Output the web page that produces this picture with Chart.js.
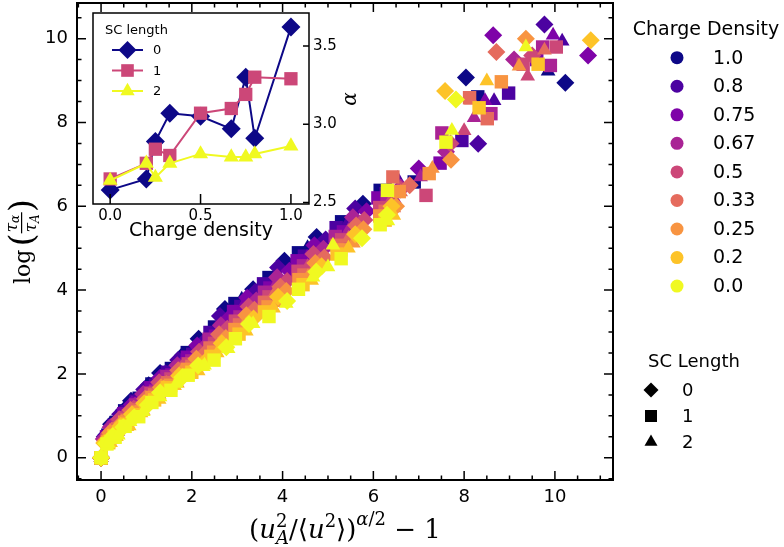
<!DOCTYPE html>
<html>
<head>
<meta charset="utf-8">
<script src="https://cdn.jsdelivr.net/npm/chart.js@4.4.1/dist/chart.umd.min.js"></script>
<style>
  html, body { margin: 0; padding: 0; background: #fff; }
  #wrap { position: relative; width: 784px; height: 547px; }
  #main { position: absolute; left: 0; top: 0; }
  #inset { position: absolute; left: 85px; top: 5px; }
</style>
</head>
<body>
<div id="wrap">
  <canvas id="main" width="784" height="547"></canvas>
  <canvas id="inset" width="280" height="255"></canvas>
</div>
<script>
// ---- legend categories ----
const chargeLabels = ['1.0', '0.8', '0.75', '0.67', '0.5', '0.33', '0.25', '0.2', '0.0'];
const chargeColors = ['#0d0887', '#4c02a1', '#7e03a8', '#a92395', '#cc4778', '#e56b5d', '#f89441', '#fdc328', '#f0f921'];
const scLabels = ['0', '1', '2'];

// ---- main axes ticks ----
const xTicks = [0, 2, 4, 6, 8, 10];
const yTicks = [0, 2, 4, 6, 8, 10];

// ---- main scatter: [x, y] per charge density / SC length ----
const cd10_sc0 = [[0,0],[0.12,0.55],[0.22,0.8],[0.5,1.13],[0.66,1.36],[1.05,1.73],[1.3,2.02],[1.8,2.44],[2.15,2.84],[2.73,3.55],[3.35,4.02],[4.04,4.7],[4.75,5.27],[5.77,6.06],[8.04,9.07],[10.23,8.95]];
const cd10_sc1 = [[0,0],[0.15,0.54],[0.33,0.84],[0.52,1.12],[0.84,1.42],[1.12,1.76],[1.55,2.13],[1.9,2.51],[2.5,3.12],[2.95,3.68],[3.7,4.3],[4.35,4.89],[5.3,5.63],[6.15,6.38],[6.9,6.58],[8.3,8.61]];
const cd10_sc2 = [[0,0],[0.2,0.58],[0.37,0.78],[0.57,1.12],[0.94,1.43],[1.22,1.8],[1.7,2.15],[2.05,2.62],[2.65,3.2],[3.1,3.78],[3.9,4.36],[4.55,5.01],[5.58,5.74],[6.35,6.45],[9.85,9.22]];

const cd08_sc0 = [[0,0],[0.08,0.5],[0.3,0.81],[0.42,1.04],[0.76,1.35],[0.95,1.63],[1.42,2.01],[1.7,2.33],[2.3,2.8],[2.62,3.38],[3.4,3.96],[3.9,4.54],[4.95,5.21],[5.6,5.95],[8.31,7.49],[9.77,10.34]];
const cd08_sc1 = [[0,0],[0.18,0.53],[0.28,0.77],[0.58,1.1],[0.77,1.35],[1.2,1.73],[1.46,2.04],[2.02,2.47],[2.4,2.99],[3.08,3.61],[3.58,4.15],[4.48,4.81],[5.18,5.49],[6.28,6.3],[7.95,7.57],[8.98,8.7]];
const cd08_sc2 = [[0,0],[0.22,0.55],[0.33,0.74],[0.63,1.07],[0.87,1.38],[1.3,1.74],[1.6,2.09],[2.16,2.53],[2.55,3.11],[3.22,3.66],[3.8,4.26],[4.66,4.89],[5.45,5.63],[6.53,6.66],[8.66,8.52],[10.16,9.94]];

const cd075_sc0 = [[0,0],[0.14,0.49],[0.27,0.74],[0.52,1.02],[0.68,1.27],[1.08,1.61],[1.3,1.91],[1.85,2.3],[2.12,2.68],[2.8,3.31],[3.22,3.82],[4.15,4.46],[4.7,5.07],[5.85,5.88],[7.0,6.9],[8.64,10.08],[10.73,9.6]];
const cd075_sc1 = [[0,0],[0.12,0.5],[0.35,0.73],[0.5,1.05],[0.85,1.3],[1.1,1.67],[1.56,1.98],[1.9,2.4],[2.52,2.9],[2.92,3.49],[3.72,4.05],[4.32,4.7],[5.34,5.39],[6.1,6.2],[7.47,7.03],[9.6,9.5]];
const cd075_sc2 = [[0,0],[0.18,0.52],[0.38,0.7],[0.58,1.02],[0.93,1.32],[1.21,1.68],[1.7,2.03],[2.04,2.46],[2.66,3.0],[3.1,3.56],[3.92,4.14],[4.54,4.78],[5.56,5.53],[6.34,6.28],[8.46,8.52],[9.96,10.08]];

const cd067_sc0 = [[0,0],[0.06,0.45],[0.21,0.73],[0.47,0.95],[0.75,1.24],[0.93,1.52],[1.4,1.88],[1.68,2.21],[2.28,2.64],[2.64,3.16],[3.42,3.75],[3.88,4.31],[4.9,4.99],[5.55,5.74],[6.6,6.45],[7.6,7.3],[9.1,9.5]];
const cd067_sc1 = [[0,0],[0.17,0.47],[0.27,0.71],[0.6,0.98],[0.76,1.26],[1.2,1.59],[1.45,1.94],[2.0,2.31],[2.38,2.83],[3.06,3.36],[3.6,3.95],[4.46,4.58],[5.16,5.28],[6.3,6.09],[7.51,7.75],[8.59,8.21],[9.73,9.8],[9.9,9.36]];
const cd067_sc2 = [[0,0],[0.21,0.49],[0.34,0.67],[0.63,0.95],[0.88,1.29],[1.29,1.62],[1.61,1.97],[2.15,2.38],[2.56,2.9],[3.2,3.45],[3.8,4.03],[4.65,4.67],[5.45,5.42],[6.46,6.18],[7.04,6.7],[8.22,8.11]];

const cd05_sc0 = [[0,0],[0.12,0.44],[0.29,0.67],[0.4,0.92],[0.72,1.17],[1.06,1.49],[1.28,1.8],[1.82,2.17],[2.16,2.53],[2.78,3.08],[3.25,3.61],[4.1,4.22],[4.68,4.86],[5.8,5.67],[6.6,6.4],[7.7,7.5],[9.5,9.6]];
const cd05_sc1 = [[0,0],[0.13,0.43],[0.32,0.67],[0.53,0.95],[0.83,1.19],[1.1,1.54],[1.54,1.88],[1.92,2.24],[2.5,2.73],[2.96,3.26],[3.7,3.84],[4.34,4.45],[5.3,5.2],[6.14,5.97],[7.16,6.26],[9.3,9.39],[10.03,9.8]];
const cd05_sc2 = [[0,0],[0.19,0.46],[0.37,0.63],[0.57,0.91],[0.93,1.23],[1.22,1.55],[1.69,1.93],[2.06,2.3],[2.64,2.8],[3.12,3.34],[3.9,3.91],[4.55,4.56],[5.55,5.32],[6.35,6.08],[8.0,7.8],[9.4,9.1]];

const cd033_sc0 = [[0,0],[0.09,0.4],[0.24,0.65],[0.5,0.85],[0.65,1.14],[0.97,1.41],[1.44,1.76],[1.7,2.09],[2.26,2.46],[2.6,2.95],[3.38,3.53],[3.95,4.08],[4.92,4.78],[5.62,5.54],[6.8,6.5],[8.71,9.68]];
const cd033_sc1 = [[0,0],[0.16,0.42],[0.29,0.61],[0.57,0.9],[0.78,1.14],[1.18,1.5],[1.47,1.79],[2.0,2.18],[2.4,2.62],[3.05,3.17],[3.6,3.71],[4.47,4.36],[5.2,5.07],[6.26,5.88],[6.43,6.7],[8.12,8.59],[8.51,8.09]];
const cd033_sc2 = [[0,0],[0.22,0.43],[0.33,0.59],[0.62,0.86],[0.87,1.18],[1.28,1.51],[1.62,1.84],[2.14,2.22],[2.57,2.71],[3.2,3.21],[3.82,3.92],[4.65,4.43],[5.45,5.23],[6.45,5.96],[6.6,6.34],[8.16,8.53],[9.77,9.72]];

const cd025_sc0 = [[0,0],[0.13,0.39],[0.2,0.6],[0.46,0.83],[0.78,1.07],[1.04,1.38],[1.32,1.68],[1.8,2.05],[2.1,2.36],[2.75,2.86],[3.2,3.4],[4.08,3.98],[4.72,4.65],[5.78,5.45],[6.5,6.0],[7.71,7.11],[9.36,10.0]];
const cd025_sc1 = [[0,0],[0.14,0.39],[0.33,0.57],[0.52,0.85],[0.82,1.09],[1.12,1.44],[1.53,1.73],[1.9,2.11],[2.48,2.52],[2.95,3.06],[3.68,3.6],[4.36,4.25],[5.28,4.96],[6.14,5.77],[6.57,6.35],[7.23,6.78],[8.82,8.97]];
const cd025_sc2 = [[0,0],[0.19,0.39],[0.37,0.55],[0.58,0.81],[0.93,1.12],[1.22,1.45],[1.68,1.78],[2.06,2.15],[2.64,2.61],[3.12,3.11],[3.9,3.7],[4.56,4.32],[5.56,5.12],[6.35,5.86],[7.3,6.9],[9.21,9.34]];

const cd02_sc0 = [[0,0],[0.07,0.35],[0.3,0.58],[0.43,0.76],[0.68,1.04],[0.95,1.3],[1.38,1.64],[1.72,1.96],[2.3,2.3],[2.66,2.73],[3.36,3.32],[3.9,3.84],[4.86,4.57],[5.6,5.33],[6.4,6.0],[7.58,8.75],[10.79,9.96]];
const cd02_sc1 = [[0,0],[0.17,0.36],[0.28,0.53],[0.58,0.8],[0.78,1.03],[1.18,1.38],[1.46,1.67],[2.0,2.04],[2.42,2.42],[3.04,2.95],[3.6,3.48],[4.45,4.13],[5.2,4.86],[6.26,5.67],[8.33,8.35],[9.63,9.39]];
const cd02_sc2 = [[0,0],[0.21,0.36],[0.34,0.5],[0.62,0.76],[0.88,1.07],[1.28,1.39],[1.62,1.72],[2.14,2.07],[2.56,2.5],[3.2,3.02],[3.8,3.57],[4.64,4.23],[5.45,5.0],[6.45,5.78],[8.5,8.99]];

const cd00_sc0 = [[0,0],[0.11,0.34],[0.26,0.52],[0.49,0.73],[0.73,0.97],[1.03,1.26],[1.3,1.56],[1.79,1.92],[2.14,2.2],[2.76,2.64],[3.26,3.19],[4.1,3.74],[4.74,4.44],[5.75,5.24],[6.3,5.8],[7.82,8.55]];
const cd00_sc1 = [[0,0],[0.13,0.33],[0.31,0.49],[0.53,0.75],[0.83,0.98],[1.12,1.32],[1.54,1.61],[1.92,1.97],[2.49,2.33],[2.96,2.84],[3.7,3.37],[4.35,4.02],[5.29,4.75],[6.15,5.56],[6.31,6.38],[7.6,7.53]];
const cd00_sc2 = [[0,0],[0.16,0.34],[0.38,0.54],[0.64,0.86],[0.93,1.1],[1.3,1.45],[1.66,1.77],[2.25,2.17],[2.28,2.21],[2.8,2.6],[3.35,3.2],[4.08,3.68],[4.67,4.31],[5.0,4.55],[5.11,5.07],[6.32,5.65],[7.73,7.81],[9.36,9.8]];

const seriesTable = [
  [cd10_sc0, cd10_sc1, cd10_sc2],
  [cd08_sc0, cd08_sc1, cd08_sc2],
  [cd075_sc0, cd075_sc1, cd075_sc2],
  [cd067_sc0, cd067_sc1, cd067_sc2],
  [cd05_sc0, cd05_sc1, cd05_sc2],
  [cd033_sc0, cd033_sc1, cd033_sc2],
  [cd025_sc0, cd025_sc1, cd025_sc2],
  [cd02_sc0, cd02_sc1, cd02_sc2],
  [cd00_sc0, cd00_sc1, cd00_sc2]
];

// ---- inset: alpha vs charge density ----
const insetX = [0, 0.2, 0.25, 0.33, 0.5, 0.67, 0.75, 0.8, 1.0];
const alphaSC0 = [2.58, 2.65, 2.89, 3.07, 3.05, 2.97, 3.30, 2.91, 3.62];
const alphaSC1 = [2.65, 2.75, 2.84, 2.80, 3.07, 3.10, 3.19, 3.30, 3.29];
const alphaSC2 = [2.64, 2.75, 2.66, 2.75, 2.81, 2.79, 2.79, 2.81, 2.86];
const insetXTicks = [0, 0.5, 1.0];
const insetYTicks = [2.5, 3.0, 3.5];
const insetColors = ['#0d0887', '#cc4778', '#f0f921'];

const scStyles = ['rectRot', 'rect', 'triangle'];
const scRadius = [9, 9.5, 8.5];

Chart.defaults.font.family = 'DejaVu Sans';
Chart.defaults.color = '#000';

function minorTicks(min, max, step, majors) {
  const out = [];
  for (let v = Math.ceil(min / step) * step; v <= max + 1e-9; v += step) {
    const r = Math.round(v * 1000) / 1000;
    if (!majors.some(m => Math.abs(m - r) < 1e-6)) out.push(r);
  }
  return out;
}

function drawTickMarks(ctx, chart, sides, majLen, minLen, minorStep) {
  const a = chart.chartArea;
  ctx.save();
  ctx.strokeStyle = '#000';
  ctx.lineWidth = 1.5;
  ctx.beginPath();
  sides.forEach(side => {
    const horiz = side === 'top' || side === 'bottom';
    const sc = horiz ? chart.scales.x : chart.scales.y;
    const majors = sc.ticks.map(t => t.value);
    const list = majors.map(v => [v, majLen]);
    if (minorStep) minorTicks(sc.min, sc.max, minorStep, majors).forEach(v => list.push([v, minLen]));
    list.forEach(([v, len]) => {
      const p = sc.getPixelForValue(v);
      if (side === 'bottom') { ctx.moveTo(p, a.bottom); ctx.lineTo(p, a.bottom - len); }
      if (side === 'top') { ctx.moveTo(p, a.top); ctx.lineTo(p, a.top + len); }
      if (side === 'left') { ctx.moveTo(a.left, p); ctx.lineTo(a.left + len, p); }
      if (side === 'right') { ctx.moveTo(a.right, p); ctx.lineTo(a.right - len, p); }
    });
  });
  ctx.stroke();
  ctx.restore();
}

// draws a row of text pieces (super/subscripts) centred at cx, baseline by
function drawRuns(ctx, runs, cx, by) {
  const fontOf = r => (r.it ? 'italic ' : '') + r.size + 'px "DejaVu Serif"';
  let x = 0, prevStart = 0, prevEnd = 0;
  const placed = [];
  runs.forEach(r => {
    ctx.font = fontOf(r);
    const w = ctx.measureText(r.t).width;
    const start = r.back ? prevStart : x;
    placed.push([r, start]);
    if (r.back) { x = Math.max(prevEnd, start + w); }
    else { prevStart = start; prevEnd = start + w; x = start + w; }
  });
  const x0 = cx - x / 2;
  placed.forEach(([r, s]) => {
    ctx.font = fontOf(r);
    ctx.fillText(r.t, x0 + s, by + (r.dy || 0));
  });
}

const mainDecor = {
  id: 'mainDecor',
  afterDraw(chart) {
    const ctx = chart.ctx;
    const a = chart.chartArea;
    drawTickMarks(ctx, chart, ['bottom', 'top', 'left', 'right'], 9, 4.5, 0.5);
    ctx.save();
    ctx.strokeStyle = '#000';
    ctx.lineWidth = 2;
    ctx.strokeRect(a.left, a.top, a.right - a.left, a.bottom - a.top);

    // x axis title
    ctx.fillStyle = '#000';
    ctx.textAlign = 'left';
    ctx.textBaseline = 'alphabetic';
    drawRuns(ctx, [
      { t: '(', size: 26 },
      { t: 'u', size: 26, it: true },
      { t: '2', size: 18, dy: -11 },
      { t: 'A', size: 18, it: true, dy: 6, back: true },
      { t: '/⟨', size: 26 },
      { t: 'u', size: 26, it: true },
      { t: '2', size: 18, dy: -11 },
      { t: '⟩)', size: 26 },
      { t: 'α', size: 18, it: true, dy: -13 },
      { t: '/2', size: 18, dy: -13 },
      { t: ' − 1', size: 26 }
    ], (a.left + a.right) / 2, 538);

    // y axis title: log(τα / τA)
    ctx.translate(30, (a.top + a.bottom) / 2);
    ctx.rotate(-Math.PI / 2);
    ctx.font = '22px "DejaVu Serif"';
    const wLog = ctx.measureText('log').width;
    ctx.font = '34px "DejaVu Serif"';
    const wPar = ctx.measureText('(').width;
    ctx.font = 'italic 17px "DejaVu Serif"';
    const wTau = ctx.measureText('τ').width;
    ctx.font = 'italic 12px "DejaVu Serif"';
    const wSub = Math.max(ctx.measureText('α').width, ctx.measureText('A').width);
    const wFrac = wTau + wSub + 3;
    const total = wLog + 3 + wPar + wFrac + wPar;
    let x = -total / 2;
    ctx.font = '22px "DejaVu Serif"';
    ctx.fillText('log', x, 0);
    x += wLog + 3;
    ctx.font = '34px "DejaVu Serif"';
    ctx.fillText('(', x, 3);
    x += wPar;
    ctx.fillRect(x, -9, wFrac, 1.2);
    ctx.font = 'italic 17px "DejaVu Serif"';
    ctx.fillText('τ', x + 1, -13);
    ctx.fillText('τ', x + 1, 6);
    ctx.font = 'italic 12px "DejaVu Serif"';
    ctx.fillText('α', x + 1 + wTau, -11);
    ctx.fillText('A', x + 1 + wTau, 9);
    x += wFrac;
    ctx.font = '34px "DejaVu Serif"';
    ctx.fillText(')', x, 3);
    ctx.restore();

    // legends
    ctx.save();
    ctx.fillStyle = '#000';
    ctx.textBaseline = 'middle';
    ctx.font = '19px "DejaVu Sans"';
    ctx.textAlign = 'center';
    ctx.fillText('Charge Density', 706, 30);
    ctx.textAlign = 'left';
    chargeLabels.forEach((lab, i) => {
      const y = 57.7 + i * 28.55;
      ctx.fillStyle = chargeColors[i];
      Chart.helpers.drawPoint(ctx, { pointStyle: 'circle', radius: 6.5, rotation: 0, borderWidth: 0 }, 677, y);
      ctx.fillStyle = '#000';
      ctx.fillText(lab, 713, y + 1);
    });
    ctx.font = '18px "DejaVu Sans"';
    ctx.textAlign = 'center';
    ctx.fillText('SC Length', 694, 362);
    ctx.textAlign = 'left';
    const legR = [7.5, 8.5, 7.5];
    scLabels.forEach((lab, i) => {
      const y = 390 + i * 26;
      ctx.fillStyle = '#000';
      Chart.helpers.drawPoint(ctx, { pointStyle: scStyles[i], radius: legR[i], rotation: 0, borderWidth: 0 }, 651, y);
      ctx.fillText(lab, 682, y + 1);
    });
    ctx.restore();
  }
};

const datasets = [];
seriesTable.forEach((row, ci) => {
  row.forEach((pts, si) => {
    datasets.push({
      label: chargeLabels[ci] + ' / ' + scLabels[si],
      data: pts.map(p => ({ x: p[0], y: p[1] })),
      pointStyle: scStyles[si],
      pointRadius: scRadius[si],
      backgroundColor: chargeColors[ci],
      borderColor: chargeColors[ci],
      borderWidth: 0
    });
  });
});
// later series drawn on top (as plotted)
datasets.forEach((d, i) => { d.order = datasets.length - i; });

new Chart(document.getElementById('main'), {
  type: 'scatter',
  data: { datasets },
  options: {
    responsive: false,
    animation: false,
    events: [],
    layout: { autoPadding: false, padding: { left: 0, right: 171, top: 3, bottom: 0 } },
    plugins: { legend: { display: false }, tooltip: { enabled: false } },
    scales: {
      x: {
        type: 'linear', min: -0.53, max: 11.28,
        grid: { display: false, drawTicks: false }, border: { display: false },
        afterBuildTicks: s => { s.ticks = xTicks.map(v => ({ value: v })); },
        afterFit: s => { s.height = 67; s.paddingLeft = 0; s.paddingRight = 0; },
        ticks: { padding: 7, font: { size: 18 }, color: '#000', callback: v => String(v) }
      },
      y: {
        type: 'linear', min: -0.53, max: 10.85,
        grid: { display: false, drawTicks: false }, border: { display: false },
        afterBuildTicks: s => { s.ticks = yTicks.map(v => ({ value: v })); },
        afterFit: s => { s.width = 77; s.paddingTop = 0; s.paddingBottom = 0; },
        ticks: { padding: 9, font: { size: 18 }, color: '#000', callback: v => String(v) }
      }
    }
  },
  plugins: [mainDecor]
});

// ---- inset ----
const insetDecor = {
  id: 'insetDecor',
  beforeDraw(chart) {
    const a = chart.chartArea;
    chart.ctx.save();
    chart.ctx.fillStyle = '#fff';
    chart.ctx.fillRect(a.left, a.top, a.right - a.left, a.bottom - a.top);
    chart.ctx.restore();
  },
  afterDraw(chart) {
    const ctx = chart.ctx;
    const a = chart.chartArea;
    drawTickMarks(ctx, chart, ['bottom'], 10, 0, 0);
    drawTickMarks(ctx, chart, ['right'], 6, 0, 0);
    ctx.save();
    ctx.strokeStyle = '#000';
    ctx.lineWidth = 1.5;
    ctx.strokeRect(a.left, a.top, a.right - a.left, a.bottom - a.top);
    ctx.fillStyle = '#000';
    // legend
    ctx.font = '13px "DejaVu Sans"';
    ctx.textAlign = 'left';
    ctx.textBaseline = 'middle';
    ctx.fillText('SC length', 20, 26);
    const legR = [9.5, 9.4, 8.7];
    scLabels.forEach((lab, i) => {
      const y = 45 + i * 20.5;
      ctx.strokeStyle = insetColors[i];
      ctx.lineWidth = 2;
      ctx.beginPath(); ctx.moveTo(27, y); ctx.lineTo(58, y); ctx.stroke();
      ctx.fillStyle = insetColors[i];
      Chart.helpers.drawPoint(ctx, { pointStyle: scStyles[i], radius: legR[i] * 0.95, rotation: 0, borderWidth: 0 }, 42.5, y);
      ctx.fillStyle = '#000';
      ctx.fillText(lab, 68, y + 1);
    });
    // axis titles
    ctx.textAlign = 'center';
    ctx.textBaseline = 'alphabetic';
    ctx.font = '19px "DejaVu Sans"';
    ctx.fillText('Charge density', (a.left + a.right) / 2, 231);
    ctx.translate(266, 94);
    ctx.rotate(-Math.PI / 2);
    ctx.font = 'italic 20px "DejaVu Serif"';
    ctx.textBaseline = 'middle';
    ctx.fillText('α', 0, 0);
    ctx.restore();
  }
};

const insetSets = [alphaSC0, alphaSC1, alphaSC2].map((vals, i) => ({
  label: scLabels[i],
  data: vals.map((v, k) => ({ x: insetX[k], y: v })),
  showLine: true,
  borderColor: insetColors[i],
  borderWidth: 2,
  backgroundColor: insetColors[i],
  pointBackgroundColor: insetColors[i],
  pointBorderWidth: 0,
  pointStyle: scStyles[i],
  pointRadius: [9.5, 9.4, 8.7][i],
  order: 2 - i
}));

new Chart(document.getElementById('inset'), {
  type: 'scatter',
  data: { datasets: insetSets },
  options: {
    responsive: false,
    animation: false,
    events: [],
    layout: { autoPadding: false, padding: { left: 8, right: 0, top: 8, bottom: 0 } },
    plugins: { legend: { display: false }, tooltip: { enabled: false } },
    scales: {
      x: {
        type: 'linear', min: -0.095, max: 1.1,
        grid: { display: false, drawTicks: false }, border: { display: false },
        afterBuildTicks: s => { s.ticks = insetXTicks.map(v => ({ value: v })); },
        afterFit: s => { s.height = 56; s.paddingLeft = 0; s.paddingRight = 0; },
        ticks: { padding: 3, font: { size: 15 }, color: '#000', callback: v => v.toFixed(1) }
      },
      y: {
        type: 'linear', position: 'right', min: 2.49, max: 3.71,
        grid: { display: false, drawTicks: false }, border: { display: false },
        afterBuildTicks: s => { s.ticks = insetYTicks.map(v => ({ value: v })); },
        afterFit: s => { s.width = 56; s.paddingTop = 0; s.paddingBottom = 0; },
        ticks: { padding: 4, font: { size: 15 }, color: '#000', callback: v => v.toFixed(1) }
      }
    }
  },
  plugins: [insetDecor]
});
</script>
</body>
</html>
